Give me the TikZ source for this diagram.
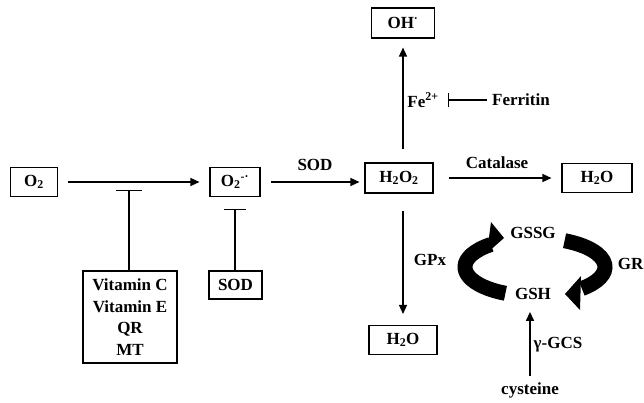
\documentclass[tikz,border=0pt]{standalone}
\usepackage{fontspec}
\setmainfont{Liberation Serif}
\usetikzlibrary{arrows.meta}
\begin{document}
\begin{tikzpicture}[x=1pt,y=-1pt,
 every node/.style={font=\fontsize{17}{21.7}\selectfont\bfseries, inner sep=0pt},
 box/.style={draw, line width=1.1pt, minimum height=29pt},
 arr/.style={line width=1.4pt, -{Triangle[length=9pt,width=8pt]}},
 inh/.style={line width=1.4pt, -{Bar[width=#1]}},
 inh/.default=24pt,
 cyc/.style={line width=15pt},
 cychead/.style={fill=black},
]
\useasboundingbox (0,0) rectangle (644,402);

% boxes
\node[box, minimum width=47pt] (o2) at (34,182) {O\textsubscript{2}};
\node[box, minimum width=50pt] (o2m) at (235,182) {O\textsubscript{2}\textsuperscript{-·}};
\node[box, minimum width=68pt, minimum height=30pt] (h2o2) at (399,178) {H\textsubscript{2}O\textsubscript{2}};
\node[box, minimum width=70pt] (h2or) at (597,178) {H\textsubscript{2}O};
\node[box, minimum width=63pt, minimum height=30pt] (oh) at (403,23) {OH\textsuperscript{·}};
\node[box, minimum width=68pt] (h2ob) at (403,340) {H\textsubscript{2}O};
\node[box, minimum width=94pt, minimum height=92pt, align=center] (vit) at (130,317) {Vitamin C\\Vitamin E\\QR\\MT};
\node[box, minimum width=53pt, minimum height=28pt] (sod2) at (235.5,285) {SOD};

% labels
\node (sod1) at (315,165) {SOD};
\node (cat) at (497,163) {Catalase};
\node (fe) at (423,100) {Fe\textsuperscript{2+}};
\node[anchor=west] (fer) at (492,100) {Ferritin};
\node (gpx) at (430,260) {GPx};
\node (gssg) at (533,233) {GSSG};
\node (gsh) at (533,294) {GSH};
\node[anchor=east] (gr) at (643.5,264) {GR};
\node (gcs) at (558,345) {γ-GCS};
\node (cys) at (530,390) {cysteine};

% inhibition ends
\coordinate (vbar) at (129,190);
\coordinate (sbar) at (235,209);
\coordinate (febar) at (448,100);

% arrows
\draw[arr, shorten <=10pt, shorten >=10pt] (o2.east) -- (o2m.west);
\draw[arr, shorten <=10pt, shorten >=5pt] (o2m.east) -- (o2m.east -| h2o2.west);
\draw[arr, shorten <=15pt, shorten >=10pt] (h2o2.east |- h2or.west) -- (h2or.west);
\draw[arr, shorten <=13pt, shorten >=9pt] (h2o2.north -| oh.south) -- (oh.south);
\draw[arr, shorten <=17pt, shorten >=11pt] (h2o2.south -| h2ob.north) -- (h2ob.north);
\draw[arr, shorten <=6pt, shorten >=12pt] (cys.north) -- (cys.north |- gsh.south);

\draw[inh=26pt] (vit.north -| vbar) -- (vbar);
\draw[inh=22pt] (sod2.north -| sbar) -- (sbar);
\draw[inh=14pt, shorten <=5pt] (fer.west) -- (febar);

% glutathione cycle
\draw[cyc] (535,267) ++(115:70 and 29) arc[start angle=115, end angle=231, x radius=70, y radius=29];
\fill[cychead] (491,222) -- (504,238) -- (487,253) -- cycle;
\draw[cyc] (535,267) ++(-65:70 and 29) arc[start angle=-65, end angle=48, x radius=70, y radius=29];
\fill[cychead] (581,276) -- (565,294) -- (580,310) -- cycle;
\end{tikzpicture}
\end{document}
